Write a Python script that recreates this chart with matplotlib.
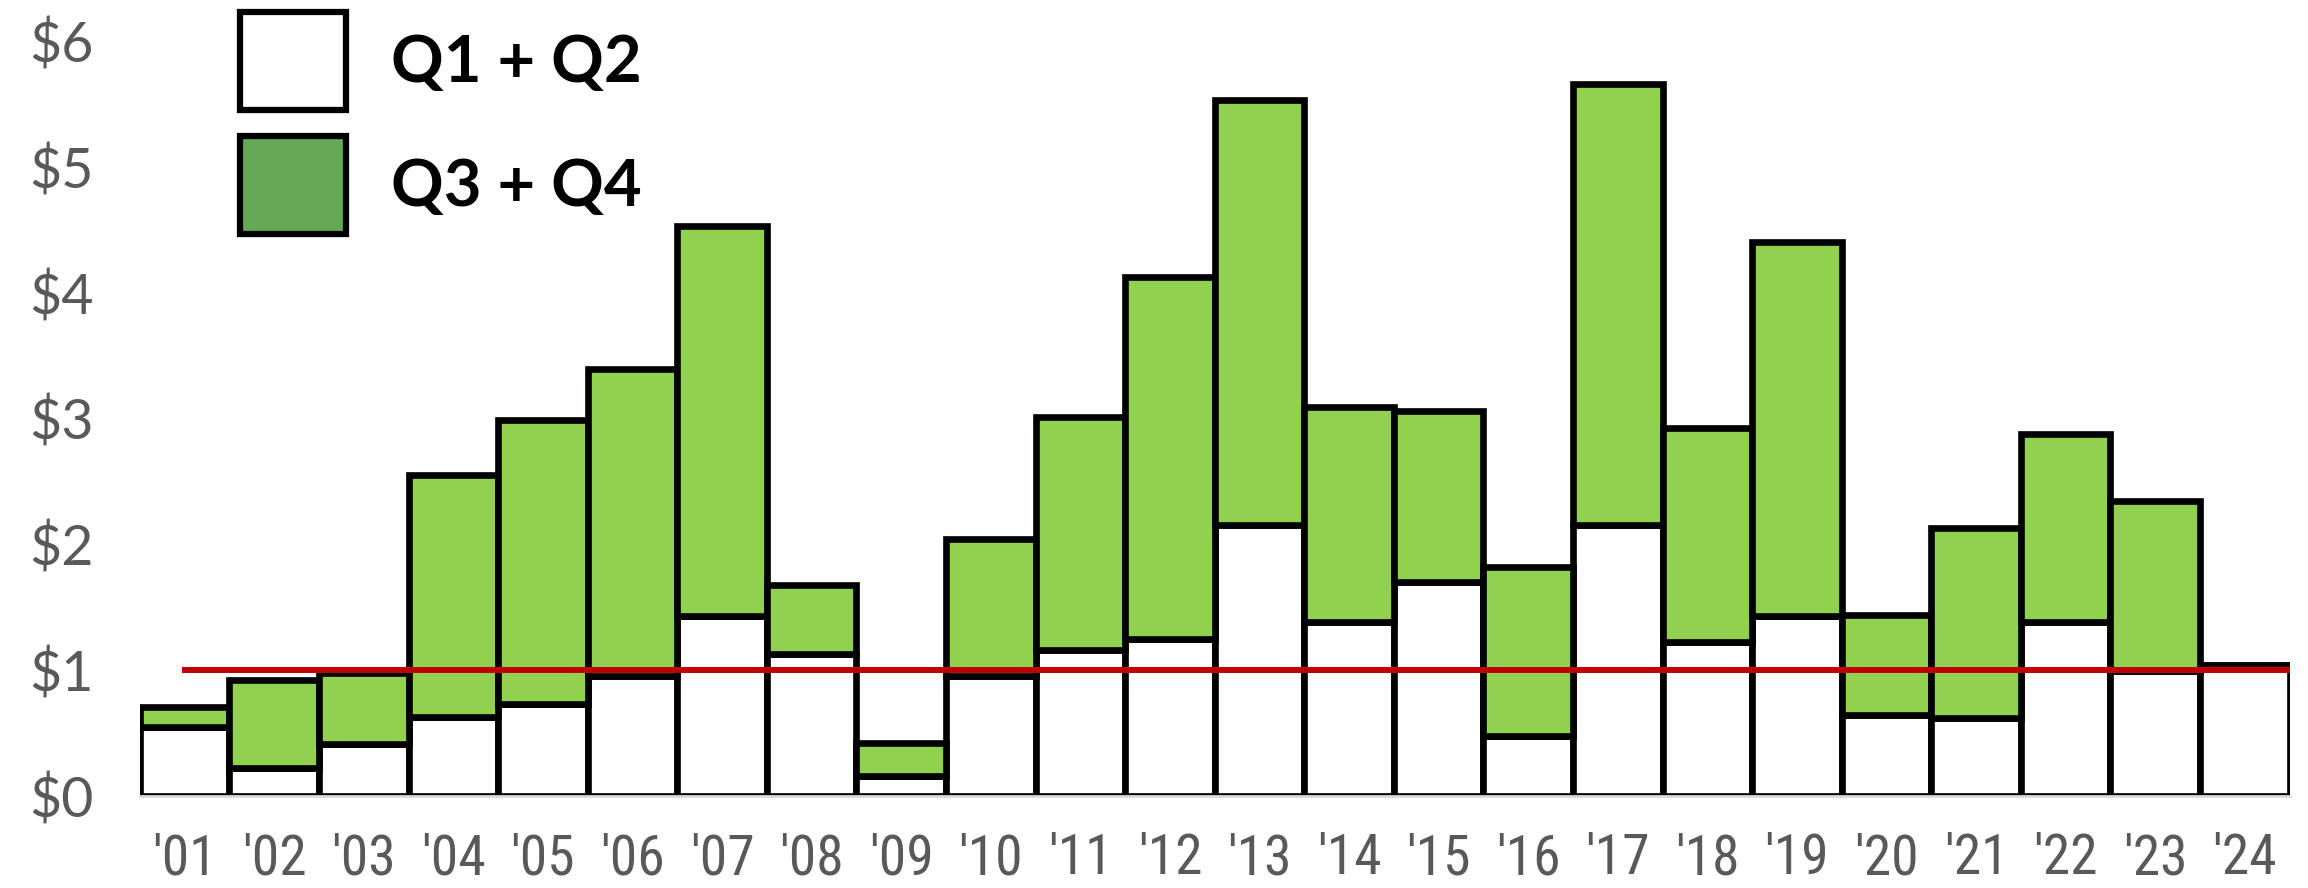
import matplotlib.pyplot as plt
from matplotlib import font_manager
from matplotlib.patches import Patch

years = ["'01", "'02", "'03", "'04", "'05", "'06", "'07", "'08", "'09", "'10", "'11", "'12",
         "'13", "'14", "'15", "'16", "'17", "'18", "'19", "'20", "'21", "'22", "'23", "'24"]
first_half = [0.55, 0.22, 0.41, 0.63, 0.73, 0.95, 1.43, 1.13, 0.16, 0.95, 1.16, 1.25,
              2.15, 1.38, 1.70, 0.48, 2.15, 1.22, 1.43, 0.64, 0.62, 1.38, 0.99, 1.04]
full_year = [0.71, 0.92, 0.98, 2.55, 2.99, 3.39, 4.53, 1.68, 0.42, 2.04, 3.01, 4.12,
             5.53, 3.09, 3.06, 1.82, 5.66, 2.92, 4.40, 1.44, 2.13, 2.88, 2.34, 1.04]
second_half = [t - h for t, h in zip(full_year, first_half)]
threshold = 1.0
yticks = [0, 1, 2, 3, 4, 5, 6]

plt.rcParams['font.family'] = ['Lato', 'DejaVu Sans']

# narrow face for the crowded year labels, if one is around
installed = {f.name for f in font_manager.fontManager.ttflist}
narrow = next((n for n in ['Liberation Sans Narrow', 'Roboto Condensed', 'Open Sans Condensed']
               if n in installed), None)
if narrow:
    xfont, xsize = [narrow, 'Lato'], 40
else:
    xfont, xsize = ['Lato'], 36

fig = plt.figure(figsize=(23.08, 8.88), dpi=100)
ax = fig.add_axes([0.0606, 0.1036, 0.9314, 0.8504])

x = list(range(len(years)))
ax.bar(x, first_half, width=1.0, color='white', edgecolor='black', linewidth=4.8, zorder=2)
ax.bar(x, second_half, bottom=first_half, width=1.0, color='#92D050',
       edgecolor='black', linewidth=4.8, zorder=2)

# break-even line from the first bar's centre to the right edge
ax.plot([0, len(years) - 0.5], [threshold, threshold], color='#C00000', linewidth=4.3, zorder=3)

ax.set_xlim(-0.5, len(years) - 0.5)
ax.set_ylim(0, 6)
ax.set_xticks(x)
ax.set_xticklabels(years, family=xfont, fontsize=xsize)
ax.set_yticks(yticks)
ax.set_yticklabels([f'${v}' for v in yticks], fontsize=40)
ax.tick_params(length=0, labelcolor='#595959')
ax.tick_params(axis='x', pad=26)
ax.tick_params(axis='y', pad=33)
for side in ['top', 'right', 'left']:
    ax.spines[side].set_visible(False)
ax.spines['bottom'].set_color('#D9D9D9')
ax.spines['bottom'].set_linewidth(2)

handles = [Patch(facecolor='white', edgecolor='black', linewidth=4.5),
           Patch(facecolor='#65A855', edgecolor='black', linewidth=4.5)]
leg = fig.legend(handles, ['Q1 + Q2', 'Q3 + Q4'], loc='upper left',
                 bbox_to_anchor=(0.104, 0.9865), frameon=False, fontsize=47,
                 handlelength=1.62, handleheight=1.93, labelspacing=0.4,
                 handletextpad=0.7, borderpad=0, borderaxespad=0)
for t in leg.get_texts():
    t.set_fontweight('bold')

fig.savefig('out.png', dpi=100)
